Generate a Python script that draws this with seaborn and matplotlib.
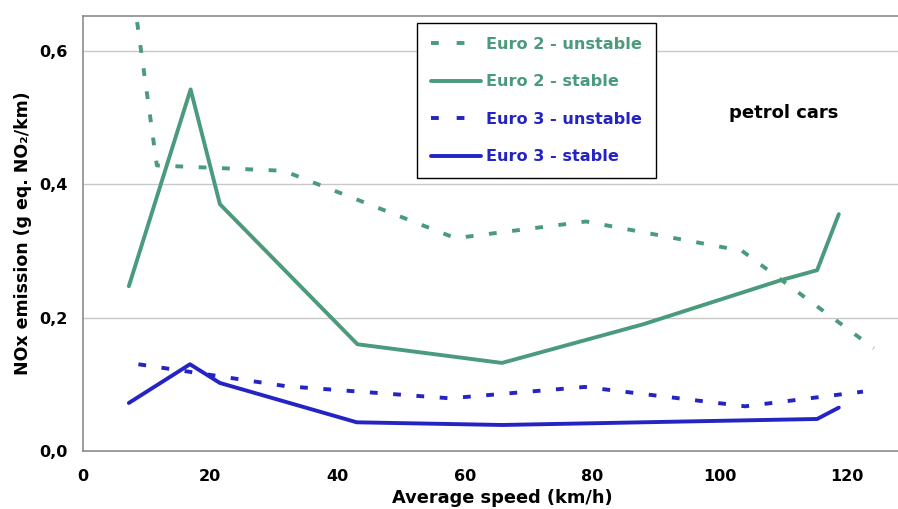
import numpy as np
import pandas as pd
import matplotlib
matplotlib.use("Agg")
import matplotlib.pyplot as plt
import seaborn as sns

# ---------- Data ----------
e2u_speed = [8.5, 11.6, 31.5, 58.5, 79.0, 103.5, 124.2]
e2u_nox = [0.643, 0.428, 0.420, 0.319, 0.344, 0.300, 0.154]

e2s_speed = [7.2, 16.9, 21.5, 43.1, 65.8, 88.0, 109.6, 115.3, 118.7]
e2s_nox = [0.247, 0.542, 0.370, 0.160, 0.132, 0.190, 0.256, 0.271, 0.355]

e3u_speed = [8.7, 16.5, 32.0, 57.6, 78.8, 104.0, 122.5]
e3u_nox = [0.130, 0.119, 0.097, 0.079, 0.096, 0.067, 0.089]

e3s_speed = [7.2, 16.8, 21.5, 43.0, 65.8, 115.3, 118.7]
e3s_nox = [0.072, 0.130, 0.102, 0.043, 0.039, 0.048, 0.065]

series = ['Euro 2 - unstable', 'Euro 2 - stable', 'Euro 3 - unstable', 'Euro 3 - stable']

GREEN = '#4a9a7c'
BLUE = '#2424c4'
DASH = [2.0, 4.0]
LEG_DASH = [2.0, 4.6]

df = pd.concat([
    pd.DataFrame({'speed': e2u_speed, 'nox': e2u_nox, 'series': series[0]}),
    pd.DataFrame({'speed': e2s_speed, 'nox': e2s_nox, 'series': series[1]}),
    pd.DataFrame({'speed': e3u_speed, 'nox': e3u_nox, 'series': series[2]}),
    pd.DataFrame({'speed': e3s_speed, 'nox': e3s_nox, 'series': series[3]}),
], ignore_index=True)

# ---------- Plot ----------
sns.set_style("white")
plt.rcParams['font.family'] = ['DejaVu Sans']
plt.rcParams['text.color'] = 'black'
plt.rcParams['axes.labelcolor'] = 'black'

fig = plt.figure(figsize=(8.98, 5.09), dpi=100)
ax = fig.add_axes([83 / 898, 1 - 451 / 509, 1 - 83 / 898, (451 - 16) / 509])

palette = {series[0]: GREEN, series[1]: GREEN, series[2]: BLUE, series[3]: BLUE}
dashes = {series[0]: (2, 3), series[1]: '', series[2]: (2, 3), series[3]: ''}

sns.lineplot(data=df, x='speed', y='nox', hue='series', style='series',
             hue_order=series, style_order=series, palette=palette,
             dashes=dashes, estimator=None, sort=False, linewidth=2.8, ax=ax)

ax.set_xlim(0, 128)
ax.set_ylim(0, 0.652)
ax.set_xticks([0, 20, 40, 60, 80, 100, 120])
ax.set_yticks([0.0, 0.2, 0.4, 0.6])
ax.set_yticklabels(['0,0', '0,2', '0,4', '0,6'])
ax.grid(axis='y', color='#c8c8c8', linewidth=1)
ax.set_axisbelow(True)

for s in ['left', 'bottom', 'top']:
    ax.spines[s].set_color('#8c8c8c')
    ax.spines[s].set_linewidth(1.2)
ax.spines['right'].set_visible(False)

ax.tick_params(axis='both', direction='out', length=5, width=1, color='#8c8c8c',
               labelcolor='black', labelsize=11.5, pad=6)
ax.tick_params(axis='x', pad=8)
for lab in ax.get_xticklabels() + ax.get_yticklabels():
    lab.set_fontweight('bold')

ax.set_xlabel('Average speed (km/h)', fontsize=12.8, fontweight='bold', color='black')
ax.xaxis.set_label_coords(0.515, -0.088)
ax.set_ylabel('NOx emission (g eq. NO\u2082/km)', fontsize=12.5, fontweight='bold',
              color='black', labelpad=5)

ax.text(110, 0.506, 'petrol cars', fontsize=13, fontweight='bold', color='black',
        ha='center', va='center')

handles, labels = ax.get_legend_handles_labels()
leg = ax.legend(handles, labels, loc='upper left', bbox_to_anchor=(0.41, 0.984),
                borderaxespad=0, frameon=True, fancybox=False, edgecolor='black',
                framealpha=1, handlelength=3.1, handletextpad=0.33,
                labelspacing=1.4, borderpad=0.85, prop={'weight': 'bold', 'size': 11.6})
leg.get_frame().set_linewidth(1.0)
for txt, col in zip(leg.get_texts(), [GREEN, GREEN, BLUE, BLUE]):
    txt.set_color(col)

# dashed series: short dashes with wide gaps, as in the original
def is_dashed(line):
    return line.get_label() in (series[0], series[2]) or line.get_linestyle() not in ('-', 'None')

for line in ax.get_lines():
    if is_dashed(line):
        line.set_linewidth(2.8)
        line.set_dashes(DASH)
        line.set_dash_capstyle('butt')

for line in leg.get_lines():
    if is_dashed(line):
        line.set_linewidth(2.8)
        line.set_dashes(LEG_DASH)
        line.set_dash_capstyle('butt')

fig.savefig('out.png', dpi=100)
